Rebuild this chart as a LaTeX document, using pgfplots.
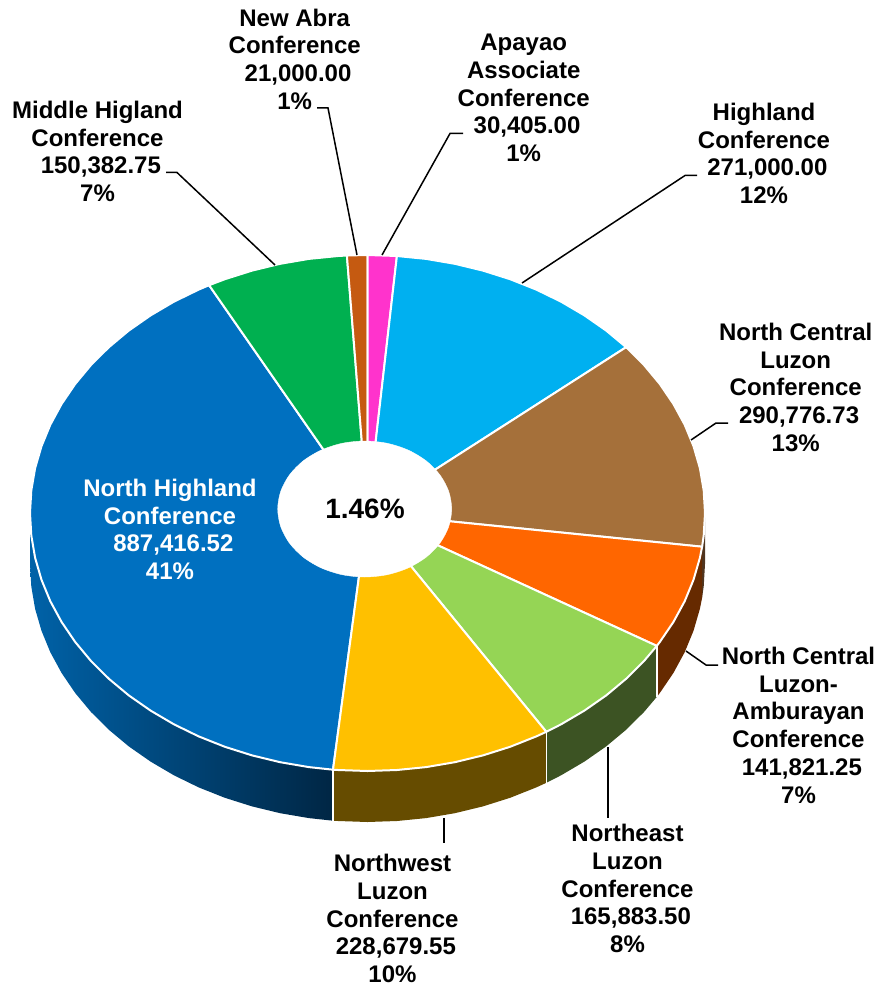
\documentclass[border=0pt]{standalone}
\usepackage{fontspec}
\setmainfont{Liberation Sans}
\usepackage{pgfplots}
\pgfplotsset{compat=1.18}
\definecolor{cBlue}{HTML}{0070C0}
\definecolor{cGreen}{HTML}{00B050}
\definecolor{cRust}{HTML}{C55A11}
\definecolor{cPink}{HTML}{FF33CC}
\definecolor{cSky}{HTML}{00B0F0}
\definecolor{cBrown}{HTML}{A5703A}
\definecolor{cOrange}{HTML}{FF6600}
\definecolor{cLime}{HTML}{95D555}
\definecolor{cYellow}{HTML}{FFC000}
\definecolor{wBrown}{HTML}{4F3520}
\definecolor{wOrange}{HTML}{662A00}
\definecolor{wLime}{HTML}{3C5323}
\definecolor{wYellow}{HTML}{664C00}
\definecolor{wBlueL}{RGB}{0,98,168}
\definecolor{wBlueM}{RGB}{0,70,122}
\definecolor{wBlueR}{RGB}{0,38,68}
\newcommand{\lab}[2]{\node[align=center,font=\fontsize{24}{27.7}\selectfont\bfseries,inner sep=0pt,anchor=north] at (axis cs:#1) {#2};}
\newcommand{\nsp}{\hspace*{0.28em}}
\pgfplotsset{
  slice/.style={fill=#1,draw=white,line width=2pt,line join=round},
  wall/.style={fill=#1,draw=none},
  sep/.style={draw=white,line width=1.6pt},
  lead/.style={draw=black,line width=1.5pt,line join=miter},
}
\begin{document}
\begin{tikzpicture}
\begin{axis}[
  scale only axis, width=884pt, height=987pt,
  xmin=0, xmax=884, ymin=0, ymax=987,
  y dir=reverse, hide axis, clip=false,
  no markers,
]
% side walls
\addplot[wall=wBrown] coordinates {(705,513)(703.7,535.5)(702.1,546.7)(702.1,597.7)(703.7,586.5)(705,564)} -- cycle;
\addplot[wall=wOrange] coordinates {(702.1,546.7)(699.9,557.8)(693.5,579.8)(684.7,601.2)(673.4,622)(659.8,642)(656.8,645.9)
  (656.8,696.9)(659.8,693)(673.4,673)(684.7,652.2)(693.5,630.8)(699.9,608.8)(702.1,597.7)} -- cycle;
\addplot[wall=wLime] coordinates {(656.8,645.9)(644,661)(626.1,678.8)(606.2,695.4)(584.4,710.6)(561.1,724.3)(546.3,731.8)
  (546.3,782.8)(561.1,775.3)(584.4,761.6)(606.2,746.4)(626.1,729.8)(644,712)(656.8,696.9)} -- cycle;
\addplot[wall=wYellow] coordinates {(546.3,731.8)(536.3,736.4)(510.1,746.8)(482.9,755.4)(454.8,762.2)(426.1,767.1)(396.9,770)(367.5,771)(338.1,770)(333,769.7)
  (333,820.7)(338.1,821)(367.5,822)(396.9,821)(426.1,818.1)(454.8,813.2)(482.9,806.4)(510.1,797.8)(536.3,787.4)(546.3,782.8)} -- cycle;
\addplot[draw=none,left color=wBlueL,middle color=wBlueM,right color=wBlueR] coordinates {
  (333,769.7)(308.9,767.1)(280.2,762.2)(252.1,755.4)(224.9,746.8)(198.7,736.4)(173.9,724.3)(150.6,710.6)(128.8,695.4)(108.9,678.8)(91,661)(75.2,642)(61.6,622)(50.3,601.2)(41.5,579.8)(35.1,557.8)(31.3,535.5)(30,513)
  (30,564)(31.3,586.5)(35.1,608.8)(41.5,630.8)(50.3,652.2)(61.6,673)(75.2,693)(91,712)(108.9,729.8)(128.8,746.4)(150.6,761.6)(173.9,775.3)(198.7,787.4)(224.9,797.8)(252.1,806.4)(280.2,813.2)(308.9,818.1)(333,820.7)} -- cycle;
\addplot[sep] coordinates {(656.8,645.9)(656.8,696.9)};
\addplot[sep] coordinates {(546.3,731.8)(546.3,782.8)};
\addplot[sep] coordinates {(333,769.7)(333,820.7)};
% top faces, each from the centre out along the rim
\addplot[slice=cBlue] coordinates {(367.5,513)(333,769.7)(308.9,767.1)(280.2,762.2)(252.1,755.4)(224.9,746.8)(198.7,736.4)(173.9,724.3)(150.6,710.6)(128.8,695.4)(108.9,678.8)(91,661)(75.2,642)(61.6,622)(50.3,601.2)(41.5,579.8)(35.1,557.8)(31.3,535.5)(30,513)
  (31.3,490.5)(35.1,468.2)(41.5,446.2)(50.3,424.8)(61.6,404)(75.2,384)(91,365)(108.9,347.2)(128.8,330.6)(150.6,315.4)(173.9,301.7)(198.7,289.6)(209.1,285.2)} -- cycle;
\addplot[slice=cGreen] coordinates {(367.5,513)(209.1,285.2)(224.9,279.2)(252.1,270.6)(280.2,263.8)(308.9,258.9)(338.1,256)(346.9,255.5)} -- cycle;
\addplot[slice=cRust] coordinates {(367.5,513)(346.9,255.5)(367.5,255)} -- cycle;
\addplot[slice=cPink] coordinates {(367.5,513)(367.5,255)(396.9,256)} -- cycle;
\addplot[slice=cSky] coordinates {(367.5,513)(396.9,256)(426.1,258.9)(454.8,263.8)(482.9,270.6)(510.1,279.2)(536.3,289.6)(561.1,301.7)(584.4,315.4)(606.2,330.6)(626.1,347.2)} -- cycle;
\addplot[slice=cBrown] coordinates {(367.5,513)(626.1,347.2)(644,365)(659.8,384)(673.4,404)(684.7,424.8)(693.5,446.2)(699.9,468.2)(703.7,490.5)(705,513)(703.7,535.5)(702.1,546.7)} -- cycle;
\addplot[slice=cOrange] coordinates {(367.5,513)(702.1,546.7)(699.9,557.8)(693.5,579.8)(684.7,601.2)(673.4,622)(659.8,642)(656.8,645.9)} -- cycle;
\addplot[slice=cLime] coordinates {(367.5,513)(656.8,645.9)(644,661)(626.1,678.8)(606.2,695.4)(584.4,710.6)(561.1,724.3)(546.3,731.8)} -- cycle;
\addplot[slice=cYellow] coordinates {(367.5,513)(546.3,731.8)(536.3,736.4)(510.1,746.8)(482.9,755.4)(454.8,762.2)(426.1,767.1)(396.9,770)(367.5,771)(338.1,770)(333,769.7)} -- cycle;
% hole
\addplot[fill=white,draw=white,smooth cycle] coordinates {(451.7,509)(448.7,526.6)(440,543)(426.2,557.1)(408.2,567.9)(387.2,574.7)(364.7,577)(342.2,574.7)(321.2,567.9)(303.2,557.1)(289.4,543)(280.7,526.6)(277.7,509)(280.7,491.4)(289.4,475)(303.2,460.9)(321.2,450.1)(342.2,443.3)(364.7,441)(387.2,443.3)(408.2,450.1)(426.2,460.9)(440,475)(448.7,491.4)};
% leader lines
\addplot[lead] coordinates {(166,172.5)(177,172.5)(275,265)};
\addplot[lead] coordinates {(317,108)(328,108)(357,255)};
\addplot[lead] coordinates {(382,255)(450,133.5)(463,133.5)};
\addplot[lead] coordinates {(522,283)(685,175.5)(697,175.5)};
\addplot[lead] coordinates {(691,440)(716,423)(728,423)};
\addplot[lead] coordinates {(686,651)(706,665)(718,665)};
\addplot[lead] coordinates {(608,747)(608,818)};
\addplot[lead] coordinates {(444,818)(444,843)};
% labels
\lab{97.5,101}{Middle Higland\\Conference\\\nsp150,382.75\\7\%}
\lab{294.7,8.5}{New Abra\\Conference\\\nsp21,000.00\\1\%}
\lab{523.7,34}{Apayao\\Associate\\Conference\\\nsp30,405.00\\1\%}
\lab{764,103}{Highland\\Conference\\\nsp271,000.00\\12\%}
\lab{795.7,323}{North Central\\Luzon\\Conference\\\nsp290,776.73\\13\%}
\lab{798.5,647}{North Central\\Luzon-\\Amburayan\\Conference\\\nsp141,821.25\\7\%}
\lab{627.5,824}{Northeast\\Luzon\\Conference\\\nsp165,883.50\\8\%}
\lab{392.5,854}{Northwest\\Luzon\\Conference\\\nsp228,679.55\\10\%}
\node[align=center,font=\fontsize{24}{27.7}\selectfont\bfseries,inner sep=0pt,anchor=north,text=white] at (axis cs:170,479) {North Highland\\Conference\\\nsp887,416.52\\41\%};
\node[font=\fontsize{28}{30}\selectfont\bfseries,inner sep=0pt] at (axis cs:365,508.5) {1.46\%};
\end{axis}
\useasboundingbox (0,0) rectangle (884pt,987pt);
\end{tikzpicture}
\end{document}
